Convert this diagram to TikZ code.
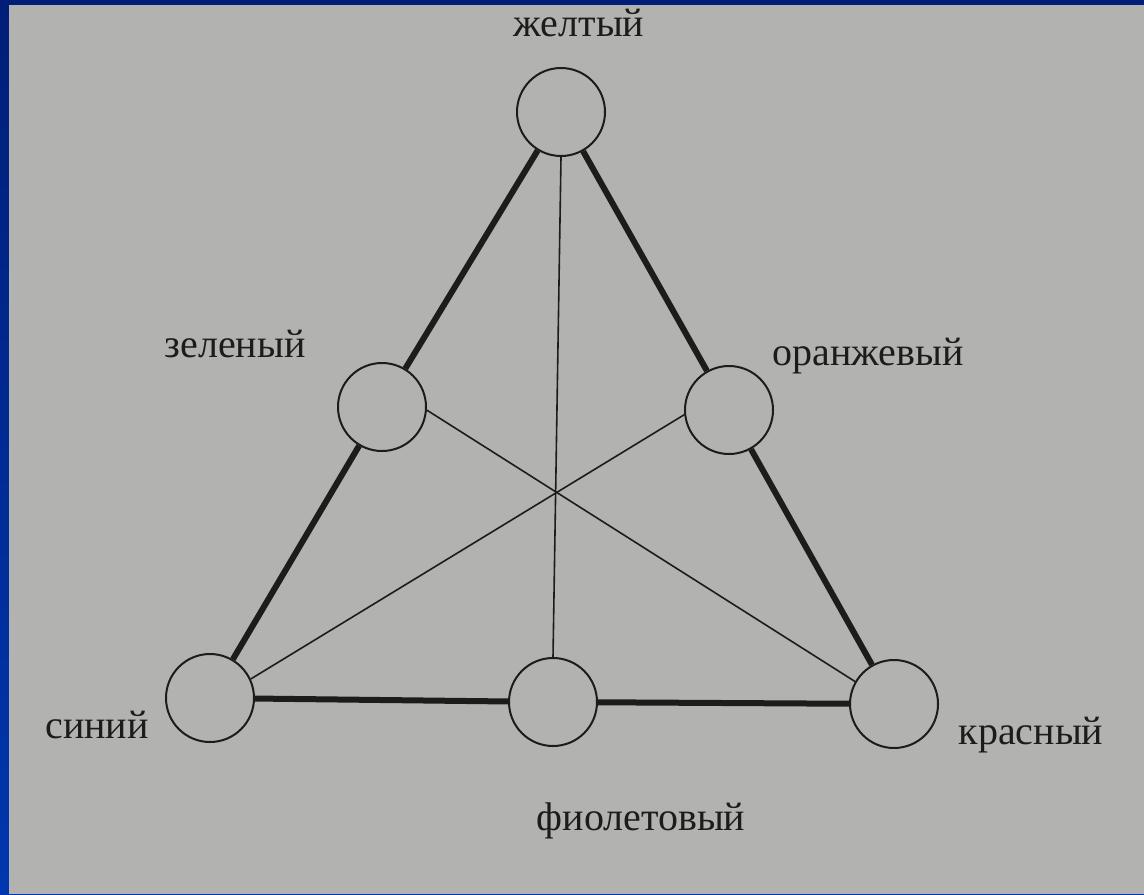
\documentclass[tikz,border=0pt]{standalone}
\usepackage{fontspec}
\setmainfont{Liberation Serif}
\usepackage{xcolor}
\usepackage{tikz}
\usetikzlibrary{positioning, calc}

\definecolor{paper}{RGB}{178,178,176}
\definecolor{ink}{RGB}{28,28,28}
\definecolor{framedark}{RGB}{0,30,120}
\definecolor{framelight}{RGB}{0,55,175}

\tikzset{
    colourdot/.style={draw=ink, circle, line width=1pt, minimum size=44pt, inner sep=0pt},
    side/.style={draw=ink, line width=3pt},
    chord/.style={draw=ink, line width=0.8pt},
    caption/.style={text=ink, font=\fontsize{20pt}{24pt}\selectfont, anchor=base}
}

\begin{document}
\begin{tikzpicture}[x=0.5pt, y=-0.5pt]
    % Slide frame and paper
    \shade[top color=framedark, bottom color=framelight] (0,0) rectangle (1144,894);
    \fill[paper] (9,5) rectangle (1144,894);
    \useasboundingbox (0,0) rectangle (1144,894);

    % Colour circles
    \node[colourdot] (yellow) at (561,112) {};
    \node[colourdot] (green) at (382,407) {};
    \node[colourdot] (orange) at (729,410) {};
    \node[colourdot] (blue) at (210,698) {};
    \node[colourdot] (violet) at (553,702) {};
    \node[colourdot] (red) at (894,704) {};

    % Sides of the triangle
    \draw[side] (yellow) -- (green);
    \draw[side] (green) -- (blue);
    \draw[side] (yellow) -- (orange);
    \draw[side] (orange) -- (red);
    \draw[side] (blue) -- (violet);
    \draw[side] (violet) -- (red);

    % Complementary pairs
    \draw[chord] (yellow.south) -- (violet.north);
    \draw[chord] (green.-4) -- (red.150);
    \draw[chord] (orange.186) -- (blue.25);

    % Labels
    \node[caption] (lyellow) at (579,36) {желтый};
    \node[caption] (lgreen) at (235,357) {зеленый};
    \node[caption] (lorange) at (868,365) {оранжевый};
    \node[caption] (lblue) at (97,738) {синий};
    \node[caption] (lred) at (1031,744) {красный};
    \node[caption] (lviolet) at (641,830) {фиолетовый};
\end{tikzpicture}
\end{document}
